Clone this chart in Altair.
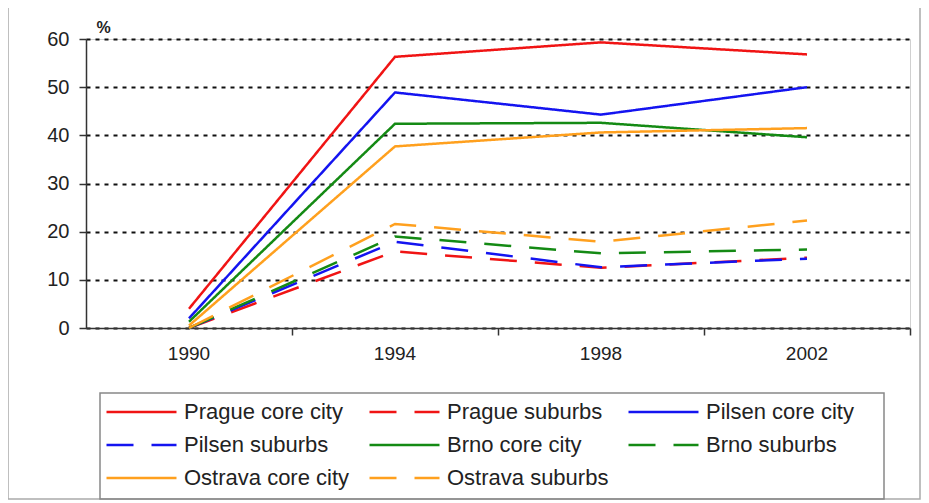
import altair as alt
import pandas as pd

years = ["1990", "1994", "1998", "2002"]
series = ["Prague core city", "Prague suburbs", "Pilsen core city", "Pilsen suburbs",
          "Brno core city", "Brno suburbs", "Ostrava core city", "Ostrava suburbs"]
prague_core = [4.0, 56.3, 59.3, 56.8]
prague_sub = [0.0, 15.9, 12.5, 14.6]
pilsen_core = [2.0, 48.9, 44.3, 50.0]
pilsen_sub = [0.0, 17.9, 12.6, 14.4]
brno_core = [1.3, 42.4, 42.6, 39.6]
brno_sub = [0.0, 19.0, 15.5, 16.3]
ostrava_core = [0.5, 37.7, 40.6, 41.5]
ostrava_sub = [0.0, 21.6, 17.9, 22.3]
values = [prague_core, prague_sub, pilsen_core, pilsen_sub,
          brno_core, brno_sub, ostrava_core, ostrava_sub]
colors = ["#f01414", "#f01414", "#1414f0", "#1414f0",
          "#148a14", "#148a14", "#ffa01e", "#ffa01e"]
solid = [1, 0]
dashed = [27, 18]
dashes = [solid, dashed, solid, dashed, solid, dashed, solid, dashed]
y_ticks = [0, 10, 20, 30, 40, 50, 60]

rows = []
for name, vals in zip(series, values):
    for yr, v in zip(years, vals):
        rows.append({"series": name, "year": yr, "value": v, "order": series.index(name)})
df = pd.DataFrame(rows)

FONT = "Liberation Sans"
W, H = 824, 289

legend_kw = dict(title=None, orient="none", legendX=19, legendY=360, columns=3,
                 direction="horizontal", clipHeight=26, labelLimit=300,
                 symbolType="stroke", symbolSize=4900, symbolStrokeWidth=2.5,
                 labelFontSize=22, labelFont=FONT, labelColor="#222222",
                 columnPadding=18, rowPadding=7, labelOffset=6, padding=0)

lines = alt.Chart(df).mark_line(strokeWidth=2.5).encode(
    x=alt.X("year:O", sort=years,
            scale=alt.Scale(type="band", paddingInner=0, paddingOuter=0),
            axis=alt.Axis(title=None, bandPosition=1, labelAngle=0, labelFontSize=19,
                          labelFont=FONT, labelColor="#222222", labelPadding=9,
                          tickSize=7, tickColor="#333333", tickWidth=1.5,
                          domainColor="#333333", domainWidth=1.5, grid=False)),
    y=alt.Y("value:Q",
            scale=alt.Scale(domain=[0, 60], nice=False),
            axis=alt.Axis(values=y_ticks, title="%", titleAngle=0, titleAlign="left",
                          titleX=10, titleY=-4, titleFontSize=16, titleFont=FONT,
                          titleFontWeight="bold", titleColor="#222222",
                          labelFontSize=20, labelFont=FONT, labelColor="#222222",
                          labelPadding=10, tickSize=7, tickColor="#333333", tickWidth=1.5,
                          domainColor="#333333", domainWidth=1.5,
                          grid=True, gridColor="#111111", gridWidth=2,
                          gridDash=[4, 5])),
    color=alt.Color("series:N", sort=series,
                    scale=alt.Scale(domain=series, range=colors),
                    legend=alt.Legend(**legend_kw)),
    strokeDash=alt.StrokeDash("series:N", sort=series,
                              scale=alt.Scale(domain=series, range=dashes),
                              legend=alt.Legend(**legend_kw)),
    detail="series:N",
    order="order:Q",
)

legend_box = alt.Chart(pd.DataFrame({"a": [0]})).mark_rect(
    fill=None, stroke="#888888", strokeWidth=1.5).encode(
    x=alt.value(14), x2=alt.value(798), y=alt.value(354), y2=alt.value(460))

outer_box = alt.Chart(pd.DataFrame({"a": [0]})).mark_rect(
    fill=None, stroke="#aaaaaa", strokeWidth=1.5).encode(
    x=alt.value(-78), x2=alt.value(834), y=alt.value(-33), y2=alt.value(460))

chart = alt.layer(outer_box, legend_box, lines).properties(
    width=W, height=H,
    padding={"left": 78, "top": 31, "right": 11, "bottom": 172},
    autosize=alt.AutoSizeParams(type="none"),
).configure_view(stroke="#d0d0d0", strokeWidth=1)

chart.save("out.html", embed_options={"renderer": "svg", "actions": False})
